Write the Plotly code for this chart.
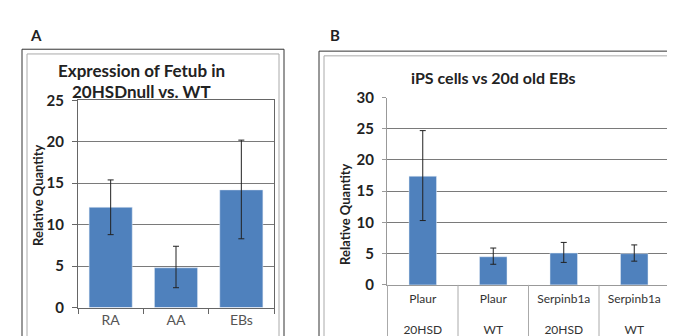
import plotly.graph_objects as go

W, H = 675, 336
def px(x): return x / W
def py(y): return 1 - y / H

# Panel A data
catsA = ["RA", "AA", "EBs"]
valsA = [12.1, 4.8, 14.2]
errA_plus = [3.3, 2.6, 6.0]
errA_minus = [3.3, 2.4, 5.9]

# Panel B data
catsB = ["Plaur 20HSD", "Plaur WT", "Serpinb1a 20HSD", "Serpinb1a WT"]
labelsB = ["Plaur<br><br>20HSD", "Plaur<br><br>WT", "Serpinb1a<br><br>20HSD", "Serpinb1a<br><br>WT"]
valsB = [17.4, 4.5, 5.1, 5.0]
errB_plus = [7.3, 1.4, 1.7, 1.4]
errB_minus = [7.1, 1.2, 1.5, 1.2]

BAR = "#4F81BD"
GRID = "#7a7a7a"
FONT = "Lato"

fig = go.Figure()
fig.add_trace(go.Bar(
    x=catsA, y=valsA, marker_color=BAR, xaxis="x", yaxis="y",
    error_y=dict(type="data", symmetric=False, array=errA_plus, arrayminus=errA_minus,
                 color="#222", thickness=1, width=3),
    showlegend=False))
fig.add_trace(go.Bar(
    x=catsB, y=valsB, marker_color=BAR, xaxis="x2", yaxis="y2", width=0.39,
    error_y=dict(type="data", symmetric=False, array=errB_plus, arrayminus=errB_minus,
                 color="#222", thickness=1, width=3),
    showlegend=False))

fig.update_layout(
    width=W, height=H, margin=dict(l=0, r=0, t=0, b=0),
    paper_bgcolor="white", plot_bgcolor="white",
    font=dict(family=FONT, color="#222"),
    bargap=0.34,
    xaxis=dict(domain=[px(70), px(266)], anchor="y", tickson="boundaries",
               ticks="outside", ticklen=5, tickcolor="#666",
               showline=True, linecolor="#666", mirror=True,
               tickfont=dict(size=14, color="#555"), showgrid=False),
    yaxis=dict(domain=[py(306), py(87)], anchor="x", range=[0, 25], dtick=5,
               ticks="outside", ticklen=5, tickcolor="#666",
               showline=True, linecolor="#666", mirror=True,
               gridcolor=GRID, gridwidth=1, ticklabelstandoff=5,
               tickfont=dict(size=15, color="#222", weight="bold"),
               zeroline=False),
    xaxis2=dict(domain=[px(379), px(662)], anchor="y2",
                tickvals=catsB, ticktext=labelsB, ticks="", showline=True,
                linecolor="#999", tickfont=dict(size=12, color="#333"), showgrid=False,
                ticklabelstandoff=3),
    yaxis2=dict(domain=[py(282), py(84)], anchor="x2", range=[0, 30], dtick=5,
                ticks="outside", ticklen=4, tickcolor="#999",
                showline=True, linecolor="#999", gridcolor=GRID, gridwidth=1,
                ticklabelstandoff=5,
                tickfont=dict(size=15, color="#222", weight="bold"), zeroline=False),
)

shapes = []
# Panel A borders
shapes.append(dict(type="rect", xref="paper", yref="paper", x0=px(14), x1=px(276),
                   y0=py(340), y1=py(33), line=dict(color="#333", width=1)))
shapes.append(dict(type="rect", xref="paper", yref="paper", x0=px(19), x1=px(271),
                   y0=py(340), y1=py(38), line=dict(color="#aaa", width=1)))
# Panel B borders
shapes.append(dict(type="rect", xref="paper", yref="paper", x0=px(311), x1=px(672),
                   y0=py(340), y1=py(35), line=dict(color="#333", width=1)))
shapes.append(dict(type="rect", xref="paper", yref="paper", x0=px(316), x1=px(669),
                   y0=py(340), y1=py(40), line=dict(color="#aaa", width=1)))
# Panel B category table lines
for b in [-0.5, 0.5, 1.5, 2.5, 3.5]:
    shapes.append(dict(type="line", xref="x2", yref="paper", x0=b, x1=b,
                       y0=py(282), y1=py(340), line=dict(color="#aaa", width=1)))
fig.update_layout(shapes=shapes)

ann = [
    dict(text="<b>A</b>", x=px(28), y=py(18), font=dict(size=15)),
    dict(text="<b>B</b>", x=px(327), y=py(18), font=dict(size=15)),
    dict(text="<b>Expression of Fetub in</b>", x=px(133), y=py(55), font=dict(size=17)),
    dict(text="<b>20HSDnull vs. WT</b>", x=px(133), y=py(78), font=dict(size=17)),
    dict(text="<b>iPS cells vs 20d old EBs</b>", x=px(485), y=py(63), font=dict(size=16)),
    dict(text="<b>Relative Quantity</b>", x=px(30), y=py(187), textangle=-90, font=dict(size=13)),
    dict(text="<b>Relative Quantity</b>", x=px(337), y=py(207), textangle=-90, font=dict(size=13)),
]
for a in ann:
    a.update(xref="paper", yref="paper", showarrow=False, xanchor="center", yanchor="middle")
fig.update_layout(annotations=ann)

fig.write_html("out.html")
